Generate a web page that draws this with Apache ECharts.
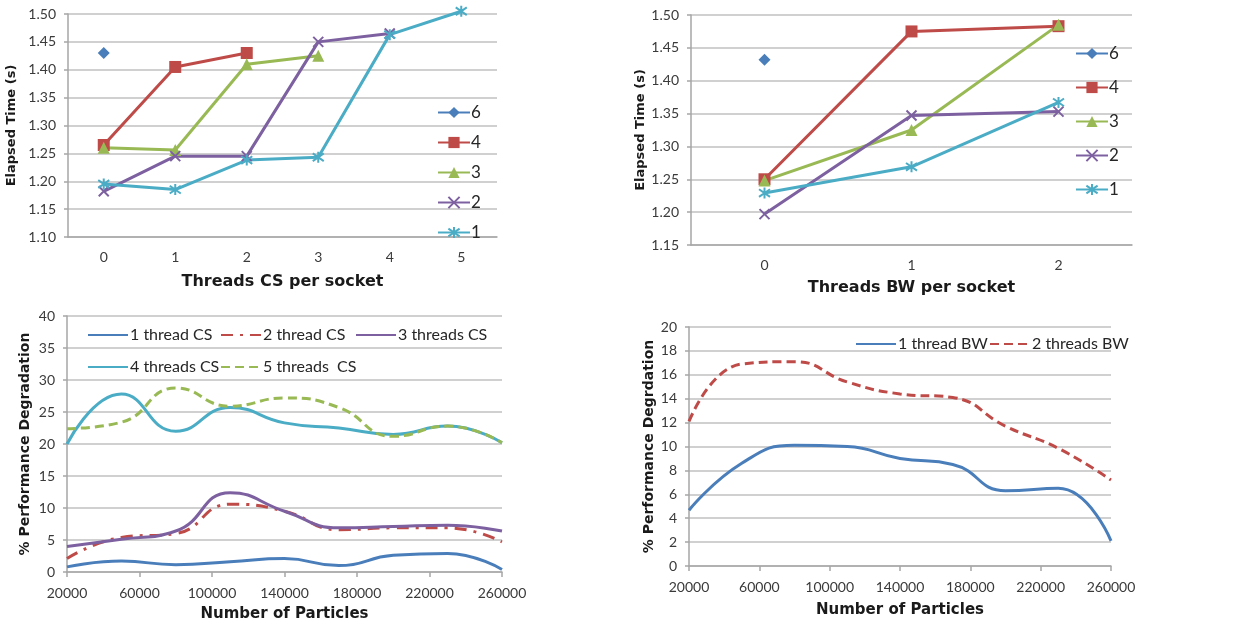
<!DOCTYPE html>
<html>
<head>
<meta charset="utf-8">
<script src="https://cdn.jsdelivr.net/npm/echarts@6/dist/echarts.min.js"></script>
<style>
  html, body { margin: 0; padding: 0; background: #fff; }
  #main { width: 1241px; height: 631px; }
</style>
</head>
<body>
<div id="main"></div>
<script>
// top left: threads CS per socket
const catsCS = ['0', '1', '2', '3', '4', '5'];
const cs6 = [1.43];
const cs4 = [1.265, 1.405, 1.43];
const cs3 = [1.26, 1.256, 1.41, 1.425];
const cs2 = [1.182, 1.245, 1.245, 1.45, 1.465];
const cs1 = [1.195, 1.185, 1.238, 1.243, 1.463, 1.505];

// top right: threads BW per socket
const catsBW = ['0', '1', '2'];
const bw6 = [1.432];
const bw4 = [1.25, 1.475, 1.483];
const bw3 = [1.248, 1.325, 1.485];
const bw2 = [1.197, 1.347, 1.353];
const bw1 = [1.229, 1.269, 1.367];

// bottom: % degradation vs number of particles
const particles = [20000, 50000, 80000, 110000, 140000, 170000, 200000, 230000, 260000];
const deg1CS = [0.8, 1.7, 1.15, 1.6, 2.1, 1.0, 2.6, 2.9, 0.4];
const deg2CS = [2.1, 5.4, 6.0, 10.6, 9.5, 6.6, 6.9, 6.9, 4.7];
const deg3CS = [4.0, 5.1, 6.4, 12.4, 9.5, 6.9, 7.1, 7.3, 6.4];
const deg4CS = [20.0, 27.8, 22.0, 25.7, 23.3, 22.5, 21.5, 22.8, 20.2];
const deg5CS = [22.4, 23.4, 28.75, 25.9, 27.2, 25.7, 21.2, 22.8, 20.2];
const deg1BW = [4.67, 8.6, 10.1, 10.0, 9.0, 8.5, 6.3, 6.5, 2.1];
const deg2BW = [12.1, 16.9, 17.1, 15.4, 14.4, 14.1, 11.7, 9.85, 7.2];

const BLUE = '#4a7ebb', RED = '#be4b48', GREEN = '#98b954', PURPLE = '#7d60a0', CYAN = '#4bacc6';
const X_SYM = 'path://M0,0 L10,10 M10,0 L0,10';
const STAR_SYM = 'path://M0,1.5 L10,8.5 M10,1.5 L0,8.5 M5,0 L5,10';

const gridColor = '#c0c0c0';
const tickFont = { fontFamily: 'Lato', fontSize: 14, color: '#3a3a3a' };

function pair(xs, ys) { return xs.map((x, i) => [x, ys[i]]); }

function catX(idx, cats, name, gap) {
  return {
    type: 'category', gridIndex: idx, data: cats, boundaryGap: true,
    name: name, nameLocation: 'middle', nameGap: gap,
    nameTextStyle: { fontFamily: 'DejaVu Sans', fontSize: 16, fontWeight: 'bold', color: '#1a1a1a' },
    axisLine: { lineStyle: { color: '#a6a6a6', width: 1.5 } },
    axisTick: { length: 5, lineStyle: { color: '#a6a6a6', width: 1.5 } },
    axisLabel: Object.assign({ margin: 13 }, tickFont)
  };
}
function valX(idx, gap, margin) {
  return {
    type: 'value', gridIndex: idx, min: 20000, max: 260000, interval: 40000,
    name: 'Number of Particles', nameLocation: 'middle', nameGap: gap,
    nameTextStyle: { fontFamily: 'DejaVu Sans', fontSize: 15, fontWeight: 'bold', color: '#1a1a1a' },
    splitLine: { show: false },
    axisLine: { lineStyle: { color: '#a6a6a6', width: 1.5 } },
    axisTick: { length: 5, lineStyle: { color: '#a6a6a6', width: 1.5 } },
    axisLabel: Object.assign({ margin: margin, formatter: v => String(v) }, tickFont)
  };
}
function valY(idx, min, max, step, name, gap, fmt, nameSize) {
  return {
    type: 'value', gridIndex: idx, min: min, max: max, interval: step,
    name: name, nameLocation: 'middle', nameGap: gap,
    nameTextStyle: { fontFamily: 'DejaVu Sans', fontSize: nameSize, fontWeight: 'bold', color: '#1a1a1a' },
    axisLine: { show: true, lineStyle: { color: '#a6a6a6', width: 1.5 } },
    axisTick: { show: true, length: 4, lineStyle: { color: '#a6a6a6', width: 1.5 } },
    splitLine: { lineStyle: { color: gridColor, width: 1.5 } },
    axisLabel: Object.assign({ margin: 12, formatter: fmt }, tickFont)
  };
}

function markLine(idx, name, data, color, symbol, size) {
  return {
    type: 'line', name: name, xAxisIndex: idx, yAxisIndex: idx, data: data,
    symbol: symbol, symbolSize: size, showSymbol: true, clip: false,
    lineStyle: { color: color, width: 3 },
    itemStyle: { color: color, borderColor: color, borderWidth: symbol.indexOf('path') === 0 ? 2 : 0 }
  };
}
function smoothLine(idx, name, data, color, dash) {
  return {
    type: 'line', name: name, xAxisIndex: idx, yAxisIndex: idx, data: data,
    smooth: 0.5, showSymbol: false, symbol: 'none',
    lineStyle: { color: color, width: 3, type: dash || 'solid' },
    itemStyle: { color: color }
  };
}
function legendItem(name, left, top) {
  return {
    data: [name], left: left, top: top, padding: 0,
    itemWidth: 40, itemHeight: 14,
    itemStyle: { color: 'rgba(0,0,0,0)', opacity: 0, borderWidth: 0 },
    textStyle: { fontFamily: 'Lato', fontSize: 16, color: '#262626', padding: [0, 0, 0, -3] }
  };
}

const fmt2 = v => v.toFixed(2);

const option = {
  animation: false,
  backgroundColor: '#fff',
  grid: [
    { left: 68, top: 14, width: 429, height: 223 },
    { left: 691, top: 15, width: 441, height: 230 },
    { left: 67, top: 316, width: 435, height: 256 },
    { left: 689, top: 327, width: 422, height: 239 }
  ],
  xAxis: [
    catX(0, catsCS, 'Threads CS per socket', 37),
    catX(1, catsBW, 'Threads BW per socket', 35),
    valX(2, 35, 14),
    valX(3, 37, 14)
  ],
  yAxis: [
    valY(0, 1.10, 1.50, 0.05, 'Elapsed Time (s)', 50, fmt2, 13),
    valY(1, 1.15, 1.50, 0.05, 'Elapsed Time (s)', 43, fmt2, 13),
    valY(2, 0, 40, 5, '% Performance Degradation', 35, null, 14),
    valY(3, 0, 20, 2, '% Performance Degrdation', 33, null, 14)
  ],
  legend: [
    {
      data: ['6', '4', '3', '2', '1'], orient: 'vertical', left: 437, top: 104, padding: 0,
      itemWidth: 32, itemHeight: 14, itemGap: 13,
      textStyle: { fontFamily: 'Lato', fontSize: 17, color: '#262626', padding: [0, 0, 0, -4] }
    },
    {
      data: ['6', '4', '3', '2', '1'], orient: 'vertical', left: 1075, top: 45, padding: 0,
      itemWidth: 32, itemHeight: 14, itemGap: 17,
      textStyle: { fontFamily: 'Lato', fontSize: 17, color: '#262626', padding: [0, 0, 0, -4] }
    },
    legendItem('1 thread CS', 87, 327),
    legendItem('2 thread CS', 220, 327),
    legendItem('3 threads CS', 355, 327),
    legendItem('4 threads CS', 87, 359),
    legendItem('5 threads  CS', 220, 359),
    legendItem('1 thread BW', 855, 336),
    legendItem('2 threads BW', 989, 336)
  ],
  series: [
    markLine(0, '6', cs6, BLUE, 'diamond', 12),
    markLine(0, '4', cs4, RED, 'rect', 12),
    markLine(0, '3', cs3, GREEN, 'triangle', 12),
    markLine(0, '2', cs2, PURPLE, X_SYM, 10),
    markLine(0, '1', cs1, CYAN, STAR_SYM, 11),

    markLine(1, '6', bw6, BLUE, 'diamond', 12),
    markLine(1, '4', bw4, RED, 'rect', 12),
    markLine(1, '3', bw3, GREEN, 'triangle', 12),
    markLine(1, '2', bw2, PURPLE, X_SYM, 10),
    markLine(1, '1', bw1, CYAN, STAR_SYM, 11),

    smoothLine(2, '1 thread CS', pair(particles, deg1CS), BLUE),
    smoothLine(2, '2 thread CS', pair(particles, deg2CS), RED, [12, 7, 3, 7]),
    smoothLine(2, '3 threads CS', pair(particles, deg3CS), PURPLE),
    smoothLine(2, '4 threads CS', pair(particles, deg4CS), CYAN),
    smoothLine(2, '5 threads  CS', pair(particles, deg5CS), GREEN, [9, 5]),

    smoothLine(3, '1 thread BW', pair(particles, deg1BW), BLUE),
    smoothLine(3, '2 threads BW', pair(particles, deg2BW), RED, [9, 5])
  ]
};

const chart = echarts.init(document.getElementById('main'), null, { renderer: 'canvas' });
chart.setOption(option);
</script>
</body>
</html>
